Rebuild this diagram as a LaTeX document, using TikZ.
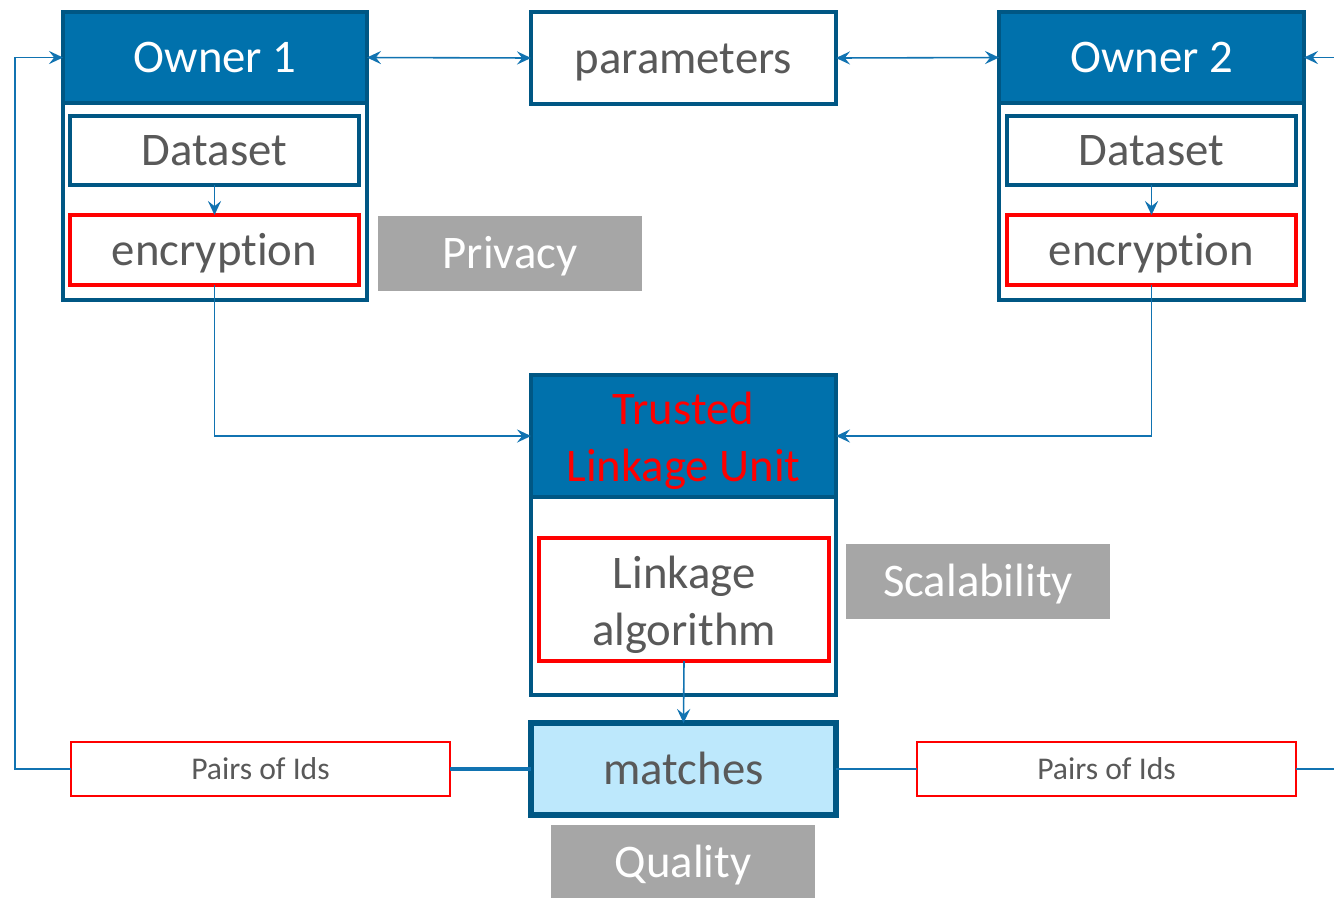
\documentclass[tikz,border=0pt]{standalone}
\usepackage{fontspec}
\setmainfont{Carlito}[Ligatures=NoCommon]
\usetikzlibrary{arrows.meta}
\definecolor{hdrblue}{HTML}{0071AC}
\definecolor{edgeblue}{HTML}{005784}
\definecolor{linkblue}{HTML}{1173B1}
\definecolor{txtgrey}{HTML}{595959}
\definecolor{tagGrey}{HTML}{A6A6A6}
\definecolor{matchblue}{HTML}{BDE8FC}
\definecolor{alertred}{HTML}{FF0000}
\begin{document}
\begin{tikzpicture}[x=0.02cm,y=-0.02cm,
  wh/.style 2 args={minimum width=#1*0.02cm, minimum height=#2*0.02cm},
  base/.style={inner sep=0pt, outer sep=0pt, align=center,
    font=\fontsize{26.6}{32.5}\selectfont},
  oneline/.style={text height=24pt, text depth=6.4pt},
  frame/.style={base, draw=edgeblue, line width=2.2pt, fill=white},
  header/.style={base, draw=edgeblue, line width=2.2pt, fill=hdrblue, text=white},
  inbox/.style={base, draw=edgeblue, line width=2.4pt, fill=white, text=txtgrey},
  redbox/.style={base, draw=alertred, line width=2.4pt, fill=white, text=txtgrey},
  tag/.style={base, oneline, fill=tagGrey, text=white},
  idbox/.style={base, draw=alertred, line width=1.1pt, fill=white, text=txtgrey,
    font=\fontsize{18}{22}\selectfont, text height=16pt, text depth=4.4pt},
  link/.style={draw=linkblue, line width=0.9pt},
  tip/.style={-{Stealth[length=8pt, width=7.5pt, inset=3pt]}},
  bitip/.style={{Stealth[length=8pt, width=7.5pt, inset=3pt]}-{Stealth[length=8pt, width=7.5pt, inset=3pt]}}
]
\useasboundingbox (0,0) rectangle (1334,897);

% Owner 1
\node[frame, wh={304}{288}] (o1) at (215,156) {};
\node[header, oneline, wh={304}{91}] (o1h) at (215,57.5) {Owner 1};
\node[inbox, oneline, wh={289}{69}] (d1) at (214.5,150.5) {Dataset};
\node[redbox, oneline, wh={289}{70}] (e1) at (214.5,250) {encryption};

% Owner 2
\node[frame, wh={305}{288}] (o2) at (1151.5,156) {};
\node[header, oneline, wh={305}{91}] (o2h) at (1151.5,57.5) {Owner 2};
\node[inbox, oneline, wh={289}{69}] (d2) at (1151.5,150.5) {Dataset};
\node[redbox, oneline, wh={289}{70}] (e2) at (1151.5,250) {encryption};

% shared parameters
\node[inbox, oneline, wh={305}{92}] (par) at (683.5,58) {parameters};

% trusted linkage unit
\node[frame, wh={305}{320}] (tlu) at (683.5,535) {};
\node[header, wh={305}{122}] (tluh) at (683.5,436) {};
\node[base, text=alertred] (tlut) at (683.5,441) {Trusted\\Linkage Unit};
\node[redbox, wh={290}{123}] (alg) at (684,599.5) {};
\node[base, text=txtgrey] (algt) at (684,605) {Linkage\\algorithm};

% results
\node[inbox, oneline, fill=matchblue, line width=2.9pt, wh={305}{92}] (match) at (683.5,769) {matches};
\node[idbox, wh={379}{54}] (pl) at (260.5,769) {Pairs of Ids};
\node[idbox, wh={379}{54}] (pr) at (1106.5,769) {Pairs of Ids};

% concerns
\node[tag, wh={264}{75}] (privacy) at (510,253.5) {Privacy};
\node[tag, wh={264}{75}] (scal) at (978,581.5) {Scalability};
\node[tag, wh={264}{74}] (qual) at (683,862) {Quality};

% connectors
\coordinate (lret) at (15,769);
\coordinate (rret) at (1360,769);
\draw[link, tip] (d1.south) -- (e1.north);
\draw[link, tip] (d2.south) -- (e2.north);
\draw[link, bitip] (o1h.east) -- (par.west);
\draw[link, bitip] (par.east) -- (o2h.west);
\draw[link, tip] (e1.south) |- (tluh.west);
\draw[link, tip] (e2.south) |- (tluh.east);
\draw[link, tip] (alg.south) -- (match.north);
\draw[link, line width=2pt] (match.west) -- (pl.east);
\draw[link] (match.east) -- (pr.west);
\draw[link, tip] (pl.west) -- (lret) |- (o1h.west);
\draw[link, tip] (pr.east) -- (rret) |- (o2h.east);
\end{tikzpicture}
\end{document}
